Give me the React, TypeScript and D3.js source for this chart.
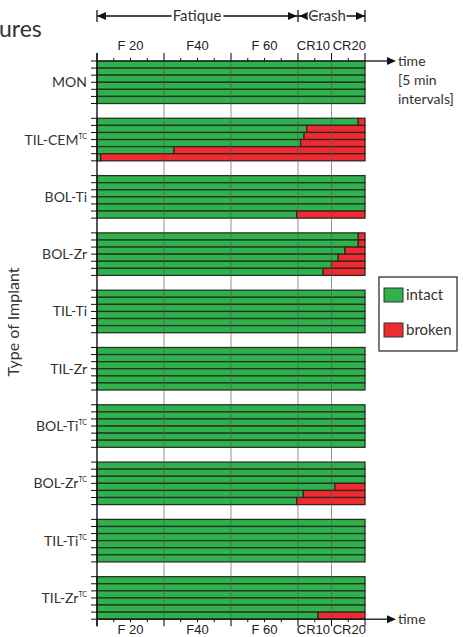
import React from "react";
import * as d3 from "d3";

const groupNames = ["MON", "TIL-CEM", "BOL-Ti", "BOL-Zr", "TIL-Ti", "TIL-Zr", "BOL-Ti", "BOL-Zr", "TIL-Ti", "TIL-Zr"];
const groupSups = ["", "TC", "", "", "", "", "TC", "TC", "TC", "TC"];
// break time of each of the 6 specimens per group (null = intact until the end)
const breakTimes: (number | null)[][] = [
  [null, null, null, null, null, null],
  [78, 62.6, 61.8, 60.8, 23, 1.1],
  [null, null, null, null, null, 59.6],
  [78, 78, 74, 72, 70, 67.5],
  [null, null, null, null, null, null],
  [null, null, null, null, null, null],
  [null, null, null, null, null, null],
  [null, null, null, 71, 61.6, 59.6],
  [null, null, null, null, null, null],
  [null, null, null, null, null, 66],
];
const majorTicks = [0, 20, 40, 60, 70, 80];
const minorTicks = [5, 10, 15, 25, 30, 35, 45, 50, 55, 65, 75];
const tickLabels = ["F 20", "F40", "F 60", "CR10", "CR20"];
const tickLabelPos = [10, 30, 50, 64.6, 75.3];
const legendItems = ["intact", "broken"];

const GREEN = "#2fb24c";
const RED = "#ee2b30";
const CAL = "Lato, 'Open Sans', sans-serif";
const ARIAL = "'Liberation Sans', Arial, sans-serif";

export default function App() {
  const x = d3.scaleLinear().domain([0, 80]).range([97, 365]);
  const yG = d3
    .scaleBand<number>()
    .domain(d3.range(groupNames.length))
    .range([61, 619.2])
    .paddingInner(0.258)
    .paddingOuter(0);
  const yR = d3.scaleBand<number>().domain(d3.range(6)).range([0, yG.bandwidth()]);
  const top = 61;
  const bottom = 619.2;
  const arrowR = (tx: number, ty: number) => `M${tx},${ty} L${tx - 9},${ty - 4} L${tx - 9},${ty + 4} Z`;
  const arrowL = (tx: number, ty: number) => `M${tx},${ty} L${tx + 9},${ty - 4} L${tx + 9},${ty + 4} Z`;
  const hy = 16;

  return (
    <svg width={463} height={637} style={{ position: "absolute", left: 0, top: 0, background: "#fff" }}>
      <text x={-1} y={37} fontFamily={CAL} fontSize={23} fill="#333">ures</text>

      {/* header Fatique / Crash */}
      <g stroke="#111" strokeWidth={1.3}>
        <line x1={x(0)} x2={x(80)} y1={hy} y2={hy} />
        <line x1={x(0)} x2={x(0)} y1={hy - 6} y2={hy + 6} />
        <line x1={x(60)} x2={x(60)} y1={hy - 6} y2={hy + 6} />
        <line x1={x(80)} x2={x(80)} y1={hy - 6} y2={hy + 6} />
      </g>
      <g fill="#111">
        <path d={arrowL(x(0), hy)} />
        <path d={arrowR(x(60) - 1, hy)} />
        <path d={arrowL(x(60) + 1, hy)} />
        <path d={arrowR(x(80), hy)} />
      </g>
      <text x={197} y={hy + 5} textAnchor="middle" fontFamily={CAL} fontSize={15} fill="#333" stroke="#fff" strokeWidth={5} paintOrder="stroke">Fatique</text>
      <text x={327} y={hy + 5} textAnchor="middle" fontFamily={CAL} fontSize={15} fill="#333" stroke="#fff" strokeWidth={3} paintOrder="stroke">Crash</text>

      {/* top tick labels */}
      {tickLabels.map((t, i) => (
        <text key={"tt" + i} x={x(tickLabelPos[i])} y={50} textAnchor="middle" fontFamily={ARIAL} fontSize={13} fill="#222">{t}</text>
      ))}
      {tickLabels.map((t, i) => (
        <text key={"bt" + i} x={x(tickLabelPos[i])} y={633.5} textAnchor="middle" fontFamily={ARIAL} fontSize={13} fill="#222">{t}</text>
      ))}

      {/* bars */}
      {breakTimes.map((rows, gi) => (
        <g key={"g" + gi} transform={`translate(0,${yG(gi)})`}>
          {rows.map((b, ri) => {
            const y0 = yR(ri)!;
            const h = yR.bandwidth();
            const end = b == null ? 80 : b;
            return (
              <g key={"r" + ri}>
                <rect x={x(0)} y={y0} width={x(end) - x(0)} height={h} fill={GREEN} stroke="#243326" strokeWidth={1.3} />
                {b != null && (
                  <rect x={x(b)} y={y0} width={x(80) - x(b)} height={h} fill={RED} stroke="#3a2222" strokeWidth={1.3} />
                )}
              </g>
            );
          })}
        </g>
      ))}

      {/* vertical grid lines */}
      {[20, 40, 60, 70].map((t) => (
        <line key={"gl" + t} x1={x(t)} x2={x(t)} y1={top} y2={bottom} stroke="#555" strokeOpacity={0.7} strokeWidth={0.9} />
      ))}

      {/* top axis */}
      <line x1={x(0)} x2={x(80)} y1={top} y2={top} stroke="#111" strokeWidth={1.2} />
      {majorTicks.map((t) => (
        <line key={"tm" + t} x1={x(t)} x2={x(t)} y1={top - 8} y2={top} stroke="#111" strokeWidth={1.1} />
      ))}
      {minorTicks.map((t) => (
        <line key={"tn" + t} x1={x(t)} x2={x(t)} y1={top - 3} y2={top} stroke="#111" strokeWidth={1} />
      ))}
      {/* bottom axis */}
      <line x1={x(0)} x2={x(80)} y1={bottom} y2={bottom} stroke="#111" strokeWidth={1.2} />
      {majorTicks.map((t) => (
        <line key={"bm" + t} x1={x(t)} x2={x(t)} y1={bottom} y2={bottom + 7} stroke="#111" strokeWidth={1.1} />
      ))}
      {minorTicks.map((t) => (
        <line key={"bn" + t} x1={x(t)} x2={x(t)} y1={bottom} y2={bottom + 3} stroke="#111" strokeWidth={1} />
      ))}

      {/* y axis */}
      <line x1={x(0)} x2={x(0)} y1={top - 8} y2={bottom + 7} stroke="#111" strokeWidth={1.4} />
      {groupNames.map((_, gi) =>
        d3.range(7).map((k) => {
          const yy = yG(gi)! + k * yR.step();
          return <line key={`yt${gi}-${k}`} x1={x(0) - 6} x2={x(0)} y1={yy} y2={yy} stroke="#111" strokeWidth={1} />;
        })
      )}
      {groupNames.map((n, gi) => (
        <text key={"lab" + gi} x={87} y={yG(gi)! + yG.bandwidth() / 2 + 5} textAnchor="end" fontFamily={CAL} fontSize={14} fill="#333">
          {n}
          {groupSups[gi] && (
            <tspan fontSize={7} dy={-6}>{groupSups[gi]}</tspan>
          )}
        </text>
      ))}
      <text transform={`translate(19,322) rotate(-90)`} textAnchor="middle" fontFamily={CAL} fontSize={16} fill="#333">Type of Implant</text>

      {/* time arrows */}
      <line x1={x(80)} x2={388} y1={top} y2={top} stroke="#111" strokeWidth={1.3} />
      <path d={arrowR(396, top)} fill="#111" />
      <text x={398} y={top + 5} fontFamily={CAL} fontSize={14} fill="#333">time</text>
      <text x={398} y={top + 24} fontFamily={CAL} fontSize={14} fill="#333">[5 min</text>
      <text x={398} y={top + 43} fontFamily={CAL} fontSize={14} fill="#333">intervals]</text>
      <line x1={x(80)} x2={388} y1={bottom} y2={bottom} stroke="#111" strokeWidth={1.3} />
      <path d={arrowR(396, bottom)} fill="#111" />
      <text x={398} y={bottom + 5} fontFamily={CAL} fontSize={14} fill="#333">time</text>

      {/* legend */}
      <rect x={379} y={277} width={78} height={74} fill="#fff" stroke="#222" strokeWidth={1.2} />
      {legendItems.map((l, i) => (
        <g key={"lg" + i} transform={`translate(384,${288 + i * 35})`}>
          <rect x={0} y={0} width={19} height={14} fill={i === 0 ? GREEN : RED} stroke="#333" strokeWidth={1} />
          <text x={22} y={12} fontFamily={CAL} fontSize={15} fill="#333">{l}</text>
        </g>
      ))}
    </svg>
  );
}
